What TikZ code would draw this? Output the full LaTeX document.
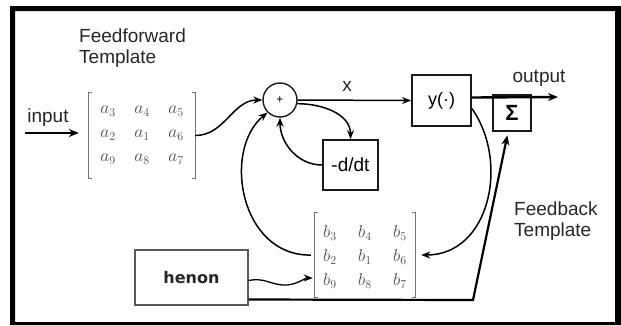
\documentclass[tikz,border=0pt]{standalone}
\usepackage{fontspec}
\setmainfont{Liberation Sans}
\newfontfamily\henonfont{DejaVu Sans}
\usetikzlibrary{arrows.meta,calc,matrix}
\begin{document}
\begin{tikzpicture}[x=1pt,y=-1pt,
  lbl/.style={font=\fontsize{19}{21}\selectfont, text=black!85, inner sep=0pt},
  blk/.style={draw=black!90, line width=1.8pt, inner sep=0pt},
  arr/.style={line width=1.5pt, -{Stealth[length=9pt,width=7pt]}},
  thickarr/.style={line width=2.4pt, -{Stealth[length=10pt,width=8pt]}},
  brk/.style={draw=black!55, line width=0.9pt},
  entries/.style={matrix of math nodes, text=black!70,
    nodes={anchor=center, inner sep=0pt, font=\fontsize{18}{18}\selectfont}}
]
\useasboundingbox (0,0) rectangle (621,325);
\fill[black, even odd rule] (10,6) rectangle (621,325) (15,11) rectangle (615,322);

% texts
\node[lbl, align=left, anchor=north west] (fft) at (79,29) {Feedforward\\Template};
\node[lbl, align=left, anchor=north west] (fbt) at (514,202) {Feedback\\Template};
\node[lbl] (inL) at (48,118) {input};
\node[lbl] (outL) at (539,78) {output};
\node[lbl] (xL) at (347,86) {x};

% matrix A
\node[minimum width=106pt, minimum height=85pt, inner sep=0pt] (abr) at (142,135.5) {};
\draw[brk] ([xshift=3pt]abr.north west) -- (abr.north west) -- (abr.south west) -- ([xshift=3pt]abr.south west);
\draw[brk] ([xshift=-3pt]abr.north east) -- (abr.north east) -- (abr.south east) -- ([xshift=-3pt]abr.south east);
\matrix (amat) [entries, column sep=0pt, row sep=0pt,
  nodes={minimum width=34pt, minimum height=24pt}] at (142,135.5)
{ a_3 & a_4 & a_5\\ a_2 & a_1 & a_6\\ a_9 & a_8 & a_7\\ };

% matrix B
\node[minimum width=100pt, minimum height=84pt, inner sep=0pt] (bbr) at (365,255) {};
\draw[brk] ([xshift=3pt]bbr.north west) -- (bbr.north west) -- (bbr.south west) -- ([xshift=3pt]bbr.south west);
\draw[brk] ([xshift=-3pt]bbr.north east) -- (bbr.north east) -- (bbr.south east) -- ([xshift=-3pt]bbr.south east);
\matrix (bmat) [entries, column sep=0pt, row sep=0pt,
  nodes={minimum width=35pt, minimum height=24pt}] at (365,257)
{ b_3 & b_4 & b_5\\ b_2 & b_1 & b_6\\ b_9 & b_8 & b_7\\ };

% blocks
\node[circle, draw=black!90, line width=1.4pt, minimum size=34pt, inner sep=0pt,
  font=\fontsize{12}{12}\selectfont] (sum) at (280,100) {+};
\node[blk, minimum width=59pt, minimum height=51pt, font=\fontsize{18}{18}\selectfont] (ybox) at (441.5,100.5) {y(\textperiodcentered)};
\node[blk, minimum width=55pt, minimum height=50pt, font=\fontsize{19}{19}\selectfont] (ddt) at (350.5,165) {-d/dt};
\node[blk, line width=2.6pt, minimum width=38pt, minimum height=36pt, font=\fontsize{22}{22}\selectfont\bfseries] (sig) at (512,113) {Σ};
\node[draw=black!65, line width=1.1pt, minimum width=113pt, minimum height=55pt,
  font=\henonfont\bfseries\fontsize{16}{16}\selectfont, text=black!85] (henon) at (191.5,277.5) {henon};

% connectors
\coordinate (inS) at (25,133);
\draw[thickarr, shorten >=10pt] (inS) -- (abr.west |- inS);
\draw[arr] (abr.east) to[out=0,in=180] (sum.west);
\draw[arr] (sum.east) -- (ybox.west);
\draw[arr] (sum.-12) to[out=0,in=90] (ddt.north);
\draw[arr] (ddt.west) to[out=180,in=-90] (sum.south);
\draw[arr, shorten >=6pt] ([yshift=-8pt]ybox.east) .. controls (510,163) and (489,255) .. (bbr.east);
\draw[arr, shorten <=4pt] (bbr.west) .. controls (240,256) and (222,150) .. (sum.-135);
\coordinate (wv) at (283,285);
\draw[arr, line width=1.3pt, shorten >=2pt] ([yshift=-3pt]henon.east) .. controls +(16,-3) and +(-14,-1) .. (wv)
   .. controls +(12,1) and +(-10,0) .. ([yshift=-23pt]bbr.west);
\coordinate (corner) at (473,300);
\draw[thickarr, line width=2.2pt, shorten >=3pt] ([yshift=-22pt]henon.east) -- (corner) -- ([xshift=-4pt]sig.south);
\coordinate (outE) at (558,97);
\draw[thickarr] ([yshift=3pt]ybox.east) -- (outE);
\end{tikzpicture}
\end{document}
